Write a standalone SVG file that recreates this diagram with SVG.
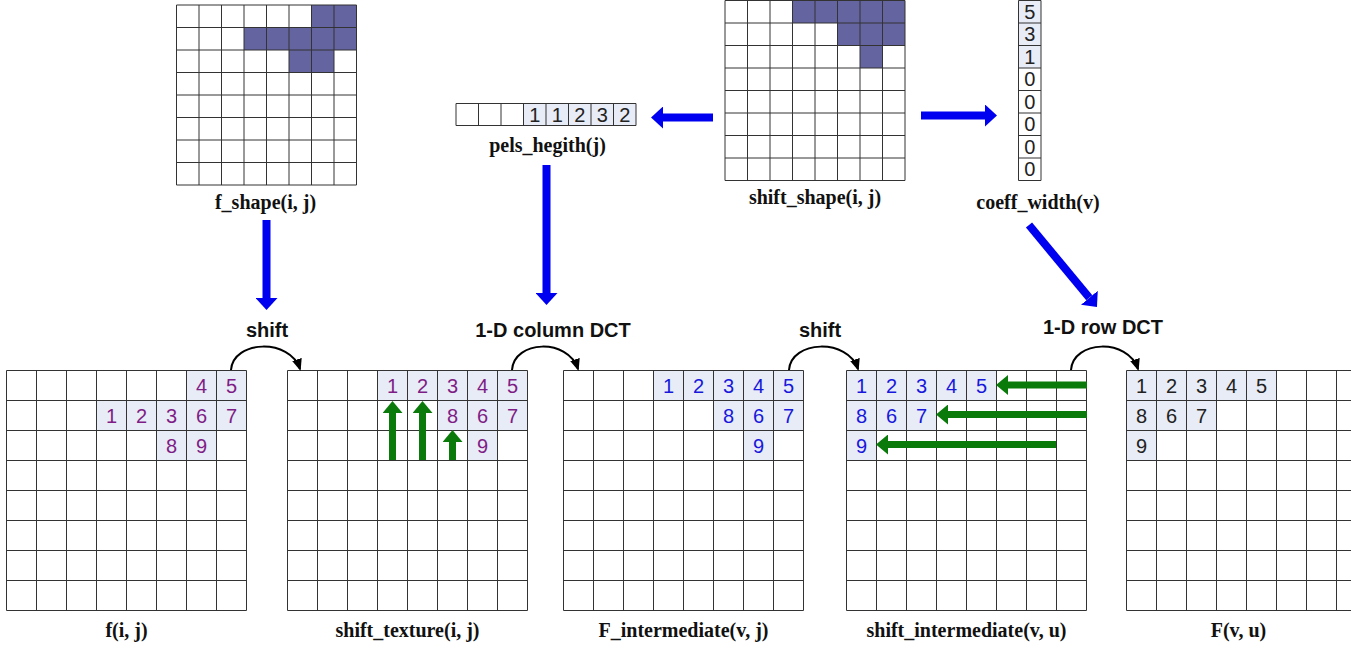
<svg xmlns="http://www.w3.org/2000/svg" width="1363" height="647" viewBox="0 0 1363 647">
  <style>
    .bg { fill: #ffffff; }
    .grid line { stroke: #333333; stroke-width: 1; fill: none; }
    .lite { fill: #e7ecf6; }
    .mask { fill: #6464a0; }
    .num { font-family: "Liberation Sans", Arial, sans-serif; font-size: 20px; text-anchor: middle; }
    .purple { fill: #7f1d86; }
    .blue { fill: #1818dc; }
    .dark { fill: #222222; }
    .cap { font-family: "Liberation Serif", "Times New Roman", serif; font-weight: bold; font-size: 20px; text-anchor: middle; fill: #111; }
    .op { font-family: "Liberation Sans", Arial, sans-serif; font-weight: bold; font-size: 20px; text-anchor: middle; fill: #111; }
    .flow { stroke: #0000f0; stroke-width: 8; fill: none; marker-end: url(#headBlue); }
    .move { stroke: #0a7a0a; stroke-width: 7; fill: none; marker-end: url(#headGreen); }
    .hop { stroke: #000; stroke-width: 2; fill: none; marker-end: url(#headBlack); }
  </style>
  <defs>
    <marker id="headBlue" viewBox="0 0 12 22" refX="0" refY="11" markerWidth="12" markerHeight="22" markerUnits="userSpaceOnUse" orient="auto">
      <path d="M0,0 L12,11 L0,22 Z" fill="#0000f0"/>
    </marker>
    <marker id="headGreen" viewBox="0 0 12 20" refX="0" refY="10" markerWidth="12" markerHeight="20" markerUnits="userSpaceOnUse" orient="auto">
      <path d="M0,0 L12,10 L0,20 Z" fill="#0a7a0a"/>
    </marker>
    <marker id="headBlack" viewBox="0 0 12 10" refX="10" refY="5" markerWidth="12" markerHeight="10" markerUnits="userSpaceOnUse" orient="auto">
      <path d="M0,0 L12,5 L0,10 Z" fill="#000"/>
    </marker>
    <!-- 8x8 lattice of 22.5 px cells -->
    <g id="lat8s" class="grid">
      <line x1="0" y1="0" x2="180" y2="0"/><line x1="0" y1="22.5" x2="180" y2="22.5"/>
      <line x1="0" y1="45" x2="180" y2="45"/><line x1="0" y1="67.5" x2="180" y2="67.5"/>
      <line x1="0" y1="90" x2="180" y2="90"/><line x1="0" y1="112.5" x2="180" y2="112.5"/>
      <line x1="0" y1="135" x2="180" y2="135"/><line x1="0" y1="157.5" x2="180" y2="157.5"/>
      <line x1="0" y1="180" x2="180" y2="180"/>
      <line x1="0" y1="0" x2="0" y2="180"/><line x1="22.5" y1="0" x2="22.5" y2="180"/>
      <line x1="45" y1="0" x2="45" y2="180"/><line x1="67.5" y1="0" x2="67.5" y2="180"/>
      <line x1="90" y1="0" x2="90" y2="180"/><line x1="112.5" y1="0" x2="112.5" y2="180"/>
      <line x1="135" y1="0" x2="135" y2="180"/><line x1="157.5" y1="0" x2="157.5" y2="180"/>
      <line x1="180" y1="0" x2="180" y2="180"/>
    </g>
    <!-- 8x8 lattice of 30 px cells -->
    <g id="lat8" class="grid">
      <line x1="0" y1="0" x2="240" y2="0"/><line x1="0" y1="30" x2="240" y2="30"/>
      <line x1="0" y1="60" x2="240" y2="60"/><line x1="0" y1="90" x2="240" y2="90"/>
      <line x1="0" y1="120" x2="240" y2="120"/><line x1="0" y1="150" x2="240" y2="150"/>
      <line x1="0" y1="180" x2="240" y2="180"/><line x1="0" y1="210" x2="240" y2="210"/>
      <line x1="0" y1="240" x2="240" y2="240"/>
      <line x1="0" y1="0" x2="0" y2="240"/><line x1="30" y1="0" x2="30" y2="240"/>
      <line x1="60" y1="0" x2="60" y2="240"/><line x1="90" y1="0" x2="90" y2="240"/>
      <line x1="120" y1="0" x2="120" y2="240"/><line x1="150" y1="0" x2="150" y2="240"/>
      <line x1="180" y1="0" x2="180" y2="240"/><line x1="210" y1="0" x2="210" y2="240"/>
      <line x1="240" y1="0" x2="240" y2="240"/>
    </g>
    <clipPath id="edge"><rect x="0" y="0" width="1351" height="647"/></clipPath>
  </defs>

  <rect class="bg" x="0" y="0" width="1363" height="647"/>

  <!-- shape mask of the block -->
  <g id="f_shape" transform="translate(176.5,5)">
    <rect class="mask" x="135" y="0" width="45" height="22.5"/>
    <rect class="mask" x="67.5" y="22.5" width="112.5" height="22.5"/>
    <rect class="mask" x="112.5" y="45" width="45" height="22.5"/>
    <use href="#lat8s"/>
    <text class="cap" x="89" y="204">f_shape(i, j)</text>
  </g>

  <!-- mask after vertical shift -->
  <g id="shift_shape" transform="translate(725,0.5)">
    <rect class="mask" x="67.5" y="0" width="112.5" height="22.5"/>
    <rect class="mask" x="112.5" y="22.5" width="67.5" height="22.5"/>
    <rect class="mask" x="135" y="45" width="22.5" height="22.5"/>
    <use href="#lat8s"/>
    <text class="cap" x="90" y="203">shift_shape(i, j)</text>
  </g>

  <!-- per-column pel counts -->
  <g id="pels_hegith" transform="translate(456,103.5)">
    <rect class="lite" x="67.5" y="0" width="112.5" height="22"/>
    <g class="grid">
      <line x1="0" y1="0" x2="180" y2="0"/><line x1="0" y1="22" x2="180" y2="22"/>
      <line x1="0" y1="0" x2="0" y2="22"/><line x1="22.5" y1="0" x2="22.5" y2="22"/>
      <line x1="45" y1="0" x2="45" y2="22"/><line x1="67.5" y1="0" x2="67.5" y2="22"/>
      <line x1="90" y1="0" x2="90" y2="22"/><line x1="112.5" y1="0" x2="112.5" y2="22"/>
      <line x1="135" y1="0" x2="135" y2="22"/><line x1="157.5" y1="0" x2="157.5" y2="22"/>
      <line x1="180" y1="0" x2="180" y2="22"/>
    </g>
    <g class="num dark">
      <text x="78.75" y="18">1</text><text x="101.25" y="18">1</text>
      <text x="123.75" y="18">2</text><text x="146.25" y="18">3</text>
      <text x="168.75" y="18">2</text>
    </g>
    <text class="cap" x="91.5" y="48.5">pels_hegith(j)</text>
  </g>

  <!-- per-row coefficient counts -->
  <g id="coeff_width" transform="translate(1018.5,0.5)">
    <rect class="lite" x="0" y="0" width="22.5" height="67.5"/>
    <g class="grid">
      <line x1="0" y1="0" x2="0" y2="180"/><line x1="22.5" y1="0" x2="22.5" y2="180"/>
      <line x1="0" y1="0" x2="22.5" y2="0"/><line x1="0" y1="22.5" x2="22.5" y2="22.5"/>
      <line x1="0" y1="45" x2="22.5" y2="45"/><line x1="0" y1="67.5" x2="22.5" y2="67.5"/>
      <line x1="0" y1="90" x2="22.5" y2="90"/><line x1="0" y1="112.5" x2="22.5" y2="112.5"/>
      <line x1="0" y1="135" x2="22.5" y2="135"/><line x1="0" y1="157.5" x2="22.5" y2="157.5"/>
      <line x1="0" y1="180" x2="22.5" y2="180"/>
    </g>
    <g class="num dark">
      <text x="11.25" y="18">5</text><text x="11.25" y="40.5">3</text>
      <text x="11.25" y="63">1</text><text x="11.25" y="85.5">0</text>
      <text x="11.25" y="108">0</text><text x="11.25" y="130.5">0</text>
      <text x="11.25" y="153">0</text><text x="11.25" y="175.5">0</text>
    </g>
    <text class="cap" x="19.5" y="208">coeff_width(v)</text>
  </g>

  <!-- texture block -->
  <g id="f_ij" transform="translate(6.5,370.5)">
    <rect class="lite" x="180" y="0" width="60" height="30"/>
    <rect class="lite" x="90" y="30" width="150" height="30"/>
    <rect class="lite" x="150" y="60" width="60" height="30"/>
    <use href="#lat8"/>
    <g class="num purple">
      <text x="195" y="22">4</text><text x="225" y="22">5</text>
      <text x="105" y="52">1</text><text x="135" y="52">2</text><text x="165" y="52">3</text>
      <text x="195" y="52">6</text><text x="225" y="52">7</text>
      <text x="165" y="82">8</text><text x="195" y="82">9</text>
    </g>
    <text class="cap" x="120" y="266">f(i, j)</text>
  </g>

  <!-- texture after vertical shift -->
  <g id="shift_texture" transform="translate(287.5,370.5)">
    <rect class="lite" x="90" y="0" width="150" height="30"/>
    <rect class="lite" x="150" y="30" width="90" height="30"/>
    <rect class="lite" x="180" y="60" width="30" height="30"/>
    <use href="#lat8"/>
    <g class="num purple">
      <text x="105" y="22">1</text><text x="135" y="22">2</text><text x="165" y="22">3</text>
      <text x="195" y="22">4</text><text x="225" y="22">5</text>
      <text x="165" y="52">8</text><text x="195" y="52">6</text><text x="225" y="52">7</text>
      <text x="195" y="82">9</text>
    </g>
    <text class="cap" x="120" y="266">shift_texture(i, j)</text>
  </g>

  <!-- after column transform -->
  <g id="F_intermediate" transform="translate(563.5,370.5)">
    <rect class="lite" x="90" y="0" width="150" height="30"/>
    <rect class="lite" x="150" y="30" width="90" height="30"/>
    <rect class="lite" x="180" y="60" width="30" height="30"/>
    <use href="#lat8"/>
    <g class="num blue">
      <text x="105" y="22">1</text><text x="135" y="22">2</text><text x="165" y="22">3</text>
      <text x="195" y="22">4</text><text x="225" y="22">5</text>
      <text x="165" y="52">8</text><text x="195" y="52">6</text><text x="225" y="52">7</text>
      <text x="195" y="82">9</text>
    </g>
    <text class="cap" x="120" y="266">F_intermediate(v, j)</text>
  </g>

  <!-- after horizontal shift -->
  <g id="shift_intermediate" transform="translate(846.5,370.5)">
    <rect class="lite" x="0" y="0" width="150" height="30"/>
    <rect class="lite" x="0" y="30" width="90" height="30"/>
    <rect class="lite" x="0" y="60" width="30" height="30"/>
    <use href="#lat8"/>
    <g class="num blue">
      <text x="15" y="22">1</text><text x="45" y="22">2</text><text x="75" y="22">3</text>
      <text x="105" y="22">4</text><text x="135" y="22">5</text>
      <text x="15" y="52">8</text><text x="45" y="52">6</text><text x="75" y="52">7</text>
      <text x="15" y="82">9</text>
    </g>
    <text class="cap" x="120" y="266">shift_intermediate(v, u)</text>
  </g>

  <!-- final coefficients; lattice runs past the right margin -->
  <g id="F_vu" transform="translate(1126.5,370.5)">
    <rect class="lite" x="0" y="0" width="150" height="30"/>
    <rect class="lite" x="0" y="30" width="90" height="30"/>
    <rect class="lite" x="0" y="60" width="30" height="30"/>
    <g class="num dark">
      <text x="15" y="22">1</text><text x="45" y="22">2</text><text x="75" y="22">3</text>
      <text x="105" y="22">4</text><text x="135" y="22">5</text>
      <text x="15" y="52">8</text><text x="45" y="52">6</text><text x="75" y="52">7</text>
      <text x="15" y="82">9</text>
    </g>
    <text class="cap" x="112" y="266">F(v, u)</text>
  </g>
  <g clip-path="url(#edge)">
    <use href="#lat8" x="1126.5" y="370.5"/>
  </g>

  <!-- operation labels -->
  <g id="ops">
    <text class="op" x="267" y="337">shift</text>
    <text class="op" x="553" y="337">1-D column DCT</text>
    <text class="op" x="820" y="337">shift</text>
    <text class="op" x="1103" y="334">1-D row DCT</text>
  </g>

  <g id="connectors">
    <!-- shape-side flow -->
    <line class="flow" x1="713" y1="117.5" x2="663" y2="117.5"/>
    <line class="flow" x1="921" y1="115.5" x2="985" y2="115.5"/>
    <line class="flow" x1="266.5" y1="220" x2="266.5" y2="298"/>
    <line class="flow" x1="546.5" y1="165" x2="546.5" y2="293"/>
    <line class="flow" x1="1029" y1="225" x2="1089.3" y2="297.8"/>

    <!-- stage transitions -->
    <path class="hop" d="M231,370 C233,340 290,338 300,369"/>
    <path class="hop" d="M512,370 C514,340 568,338 578,369"/>
    <path class="hop" d="M789,370 C791,340 848,338 858,369"/>
    <path class="hop" d="M1071,370 C1073,340 1128,338 1138,369"/>

    <!-- vertical shift moves -->
    <line class="move" x1="392.5" y1="460" x2="392.5" y2="413"/>
    <line class="move" x1="422.5" y1="460" x2="422.5" y2="413"/>
    <line class="move" x1="452.5" y1="460" x2="452.5" y2="442"/>

    <!-- horizontal shift moves -->
    <line class="move" x1="1087" y1="385" x2="1008" y2="385"/>
    <line class="move" x1="1087" y1="414.5" x2="948" y2="414.5"/>
    <line class="move" x1="1056" y1="444.5" x2="888" y2="444.5"/>
  </g>
</svg>
